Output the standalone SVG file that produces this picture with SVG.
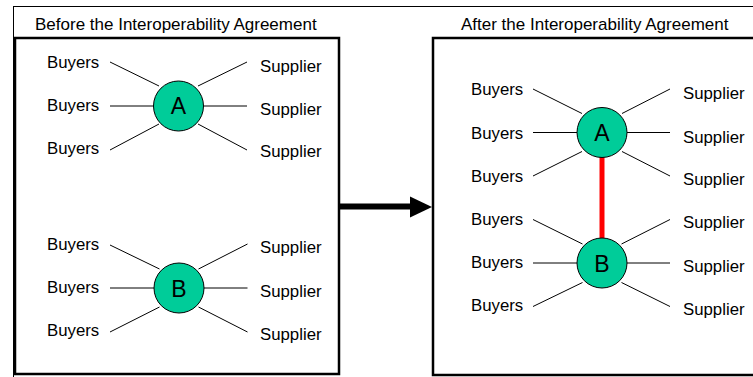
<svg xmlns="http://www.w3.org/2000/svg" width="753" height="377" viewBox="0 0 753 377">
<style>
text{font-family:"Liberation Sans",Arial,Helvetica,sans-serif;font-size:16.8px;fill:#000}
.title{font-size:17px}
.hub{fill:#00CC99;stroke:#000;stroke-width:1}
.hl{font-size:23px;text-anchor:middle}
.sp{stroke:#000;stroke-width:1;fill:none}
.frame{fill:#fff;stroke:#000;stroke-width:2.5}
</style>
<rect x="13.5" y="6.5" width="760" height="400" fill="#fff" stroke="#000" stroke-width="1"/>
<g id="panel-before">
<rect class="frame" x="15" y="38" width="324" height="336"/>
<text class="title" x="35" y="30">Before the Interoperability Agreement</text>
</g>
<g id="panel-after">
<rect class="frame" x="433" y="38" width="340" height="337"/>
<text class="title" x="461" y="30">After the Interoperability Agreement</text>
</g>
<g id="connectors">
<rect x="340" y="203.5" width="71" height="6" fill="#000"/>
<polygon points="410,196.5 432,207 410,217.5" fill="#000"/>
<line x1="602" y1="157" x2="602" y2="238" stroke="#FF0000" stroke-width="5"/>
</g>
<g id="hub-A-before">
<path class="sp" d="M110,62L159,86M110,106H153.5M110,150L159,124M198,86L247,62M203.5,106H247M198,124L247,150"/>
<circle class="hub" cx="178.5" cy="106" r="25"/>
<text class="hl" x="178.5" y="114">A</text>
<text x="47" y="67.5">Buyers</text>
<text x="47" y="111">Buyers</text>
<text x="47" y="154">Buyers</text>
<text x="260" y="72">Supplier</text>
<text x="260" y="115">Supplier</text>
<text x="260" y="157">Supplier</text>
</g>
<g id="hub-B-before">
<path class="sp" d="M110,245L159.5,269M110,288H154M110,332L159.5,307M198.5,269L247.5,244M204,288H247.5M198.5,307L247.5,332"/>
<circle class="hub" cx="179" cy="288" r="25"/>
<text class="hl" x="179" y="296.5">B</text>
<text x="47" y="250">Buyers</text>
<text x="47" y="293">Buyers</text>
<text x="47" y="336">Buyers</text>
<text x="260" y="253">Supplier</text>
<text x="260" y="297">Supplier</text>
<text x="260" y="340">Supplier</text>
</g>
<g id="hub-A-after">
<path class="sp" d="M533,89L582,113.5M533,132.5H577M533,176L582,151.5M622,113.5L670,89M627,132.5H670M622,151.5L670,176"/>
<circle class="hub" cx="602" cy="132.5" r="25"/>
<text class="hl" x="602" y="141">A</text>
<text x="471" y="95">Buyers</text>
<text x="471" y="138.5">Buyers</text>
<text x="471" y="181.5">Buyers</text>
<text x="683" y="99">Supplier</text>
<text x="683" y="142.5">Supplier</text>
<text x="683" y="184.5">Supplier</text>
</g>
<g id="hub-B-after">
<path class="sp" d="M533,219.5L582.5,244M533,263H577M533,306.5L582.5,282.5M621.5,244L670,219.5M627,263H670M621.5,282.5L670,306.5"/>
<circle class="hub" cx="602" cy="263" r="25"/>
<text class="hl" x="602" y="271.5">B</text>
<text x="471" y="225">Buyers</text>
<text x="471" y="268">Buyers</text>
<text x="471" y="311">Buyers</text>
<text x="683" y="228">Supplier</text>
<text x="683" y="272">Supplier</text>
<text x="683" y="314.5">Supplier</text>
</g>
</svg>
